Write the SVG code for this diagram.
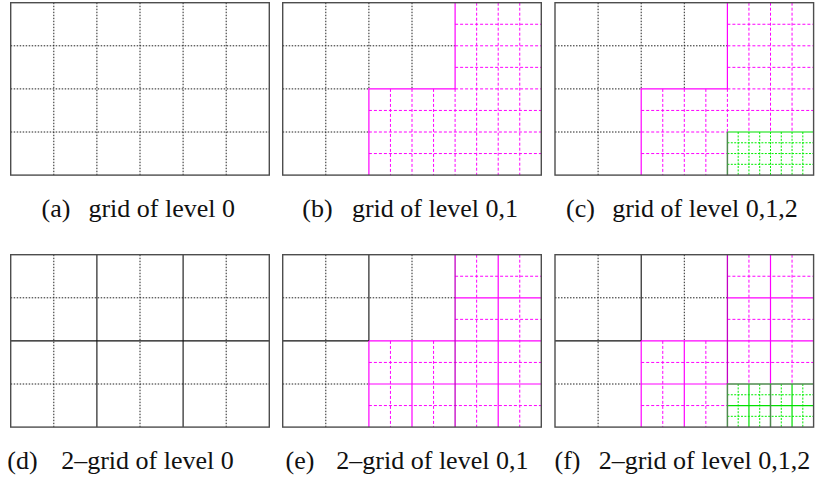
<svg xmlns="http://www.w3.org/2000/svg" width="819" height="481" viewBox="0 0 819 481">
<style>
.bd{fill:none;stroke:#4d4d4d;stroke-width:1.4}
.dot{fill:none;stroke:#222;stroke-width:1;stroke-dasharray:1.5 1.5}
.blk{fill:none;stroke:#111;stroke-width:1.1}
.ms{fill:none;stroke:#ff00ff;stroke-width:1.2}
.mk{fill:none;stroke:#c400c4;stroke-width:1.3}
.md{fill:none;stroke:#ff00ff;stroke-width:1;stroke-dasharray:3 2}
.gs{fill:none;stroke:#00e000;stroke-width:1.2}
.gk{fill:none;stroke:#4f8a4f;stroke-width:1.5}
.gd{fill:none;stroke:#00ee00;stroke-width:1;stroke-dasharray:2 1.4}
</style>
<rect width="819" height="481" fill="#fff"/>

<g id="panel-a" transform="translate(10.7,2.7)">
<path class="dot" d="M43.1,0V172.4M86.2,0V172.4M129.3,0V172.4M172.4,0V172.4M215.5,0V172.4M0,43.1H258.6M0,86.2H258.6M0,129.3H258.6"/>
<rect class="bd" x="0" y="0" width="258.6" height="172.4"/>
</g>

<g id="panel-b" transform="translate(282.7,2.7)">
<path class="dot" d="M43.1,0V172.4M86.2,0V86.2M129.3,0V86.2M0,43.1H172.4M0,86.2H86.2M0,129.3H86.2"/>
<path class="md" d="M193.95,0V172.4M215.5,0V172.4M237.05,0V172.4M107.75,86.2V172.4M129.3,86.2V172.4M150.85,86.2V172.4M172.4,86.2V172.4M172.4,21.55H258.6M172.4,43.1H258.6M172.4,64.65H258.6M172.4,86.2H258.6M86.2,107.75H258.6M86.2,129.3H258.6M86.2,150.85H258.6"/>
<path class="ms" d="M172.4,0V86.2H86.2V172.4"/>
<rect class="bd" x="0" y="0" width="258.6" height="172.4"/>
</g>

<g id="panel-c" transform="translate(555,2.7)">
<path class="dot" d="M43.1,0V172.4M86.2,0V86.2M129.3,0V86.2M0,43.1H172.4M0,86.2H86.2M0,129.3H86.2"/>
<path class="md" d="M193.95,0V129.3M215.5,0V129.3M237.05,0V129.3M107.75,86.2V172.4M129.3,86.2V172.4M150.85,86.2V172.4M172.4,86.2V129.3M172.4,21.55H258.6M172.4,43.1H258.6M172.4,64.65H258.6M172.4,86.2H258.6M86.2,107.75H258.6M86.2,129.3H172.4M86.2,150.85H172.4"/>
<path class="ms" d="M172.4,0V86.2H86.2V172.4"/>
<path class="gd" d="M183.175,129.3V172.4M193.95,129.3V172.4M204.725,129.3V172.4M215.5,129.3V172.4M226.275,129.3V172.4M237.05,129.3V172.4M247.825,129.3V172.4M172.4,140.075H258.6M172.4,150.85H258.6M172.4,161.625H258.6"/>
<path class="gs" d="M172.4,129.3H258.6"/>
<path class="gk" d="M172.4,129.3V172.4"/>
<rect class="bd" x="0" y="0" width="258.6" height="172.4"/>
</g>

<g id="panel-d" transform="translate(10.7,254.7)">
<path class="dot" d="M43.1,0V172.4M129.3,0V172.4M215.5,0V172.4M0,43.1H258.6M0,129.3H258.6"/>
<path class="blk" d="M86.2,0V172.4M172.4,0V172.4M0,86.2H258.6"/>
<rect class="bd" x="0" y="0" width="258.6" height="172.4"/>
</g>

<g id="panel-e" transform="translate(282.7,254.7)">
<path class="dot" d="M43.1,0V172.4M129.3,0V86.2M0,43.1H172.4M0,129.3H86.2"/>
<path class="blk" d="M86.2,0V86.2M0,86.2H86.2"/>
<path class="md" d="M193.95,0V172.4M237.05,0V172.4M107.75,86.2V172.4M150.85,86.2V172.4M172.4,21.55H258.6M172.4,64.65H258.6M86.2,107.75H258.6M86.2,150.85H258.6"/>
<path class="ms" d="M86.2,86.2V172.4M129.3,86.2V172.4M215.5,0V172.4M172.4,43.1H258.6M86.2,86.2H258.6M86.2,129.3H258.6"/>
<path class="mk" d="M172.4,0V172.4"/>
<rect class="bd" x="0" y="0" width="258.6" height="172.4"/>
</g>

<g id="panel-f" transform="translate(555,254.7)">
<path class="dot" d="M43.1,0V172.4M129.3,0V86.2M0,43.1H172.4M0,129.3H86.2"/>
<path class="blk" d="M86.2,0V86.2M0,86.2H86.2"/>
<path class="md" d="M193.95,0V129.3M237.05,0V129.3M107.75,86.2V172.4M150.85,86.2V172.4M172.4,21.55H258.6M172.4,64.65H258.6M86.2,107.75H258.6M86.2,150.85H172.4"/>
<path class="ms" d="M86.2,86.2V172.4M129.3,86.2V172.4M215.5,0V129.3M172.4,43.1H258.6M86.2,86.2H258.6M86.2,129.3H172.4"/>
<path class="mk" d="M172.4,0V129.3"/>
<path class="gd" d="M183.175,129.3V172.4M204.725,129.3V172.4M226.275,129.3V172.4M247.825,129.3V172.4M172.4,140.075H258.6M172.4,161.625H258.6"/>
<path class="gs" d="M193.95,129.3V172.4M237.05,129.3V172.4M172.4,150.85H258.6"/>
<path class="gk" d="M172.4,172.4V129.3H258.6M215.5,129.3V172.4"/>
<rect class="bd" x="0" y="0" width="258.6" height="172.4"/>
</g>

<g id="captions" font-family="Liberation Serif" font-size="26" fill="#111" text-anchor="middle">
<text x="55.9" y="217">(a)</text>
<text x="161.7" y="217">grid of level 0</text>
<text x="317.5" y="217">(b)</text>
<text x="435" y="217">grid of level 0,1</text>
<text x="580.5" y="217">(c)</text>
<text x="705" y="217">grid of level 0,1,2</text>
<text x="22.5" y="469">(d)</text>
<text x="147.5" y="469">2–grid of level 0</text>
<text x="300" y="469">(e)</text>
<text x="432.4" y="469">2–grid of level 0,1</text>
<text x="567.5" y="469">(f)</text>
<text x="704.5" y="469">2–grid of level 0,1,2</text>
</g>
</svg>
